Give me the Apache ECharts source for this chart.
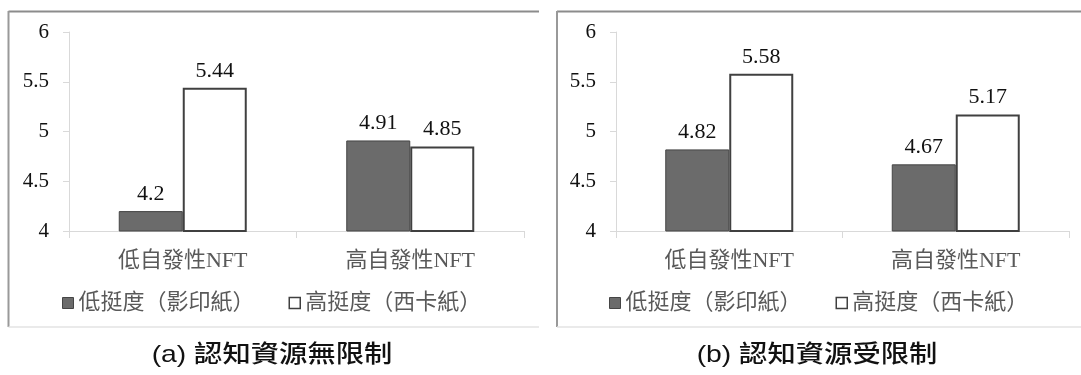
<!DOCTYPE html>
<html>
<head>
<meta charset="utf-8">
<style>
  html, body { margin: 0; padding: 0; background: #ffffff; }
  #chart { width: 1081px; height: 375px; }
</style>
<script src="https://cdn.jsdelivr.net/npm/echarts@6/dist/echarts.min.js"></script>
</head>
<body>
<div id="chart"></div>
<script>
// ---- data ----
const categories = ['低自發性NFT', '高自發性NFT'];
const seriesNames = ['低挺度（影印紙）', '高挺度（西卡紙）'];
const panelALow = [4.2, 4.91];
const panelAHigh = [5.44, 4.85];
const panelBLow = [4.82, 4.67];
const panelBHigh = [5.58, 5.17];
const yMin = 4, yMax = 6, yInterval = 0.5;
const captions = ['(a) 認知資源無限制', '(b) 認知資源受限制'];

// ---- styles ----
const serif = '"Liberation Serif", "Noto Sans CJK TC", serif';
const axisGray = '#d9d9d9';
const labelGray = '#595959';
const darkFill = '#6b6b6b';
const darkBorder = '#454545';
const whiteBorder = '#404040';

const chart = echarts.init(document.getElementById('chart'), null, { renderer: 'canvas' });

function xAxis(gridIndex) {
  return {
    type: 'category', gridIndex, data: categories,
    axisLine: { lineStyle: { color: axisGray, width: 1 } },
    axisTick: { show: true, length: 7, lineStyle: { color: axisGray } },
    axisLabel: { margin: 19, fontSize: 22, color: labelGray, fontFamily: serif }
  };
}
function yAxis(gridIndex) {
  return {
    type: 'value', gridIndex, min: yMin, max: yMax, interval: yInterval,
    axisLine: { show: true, lineStyle: { color: axisGray, width: 1 } },
    axisTick: { show: true, length: 6, lineStyle: { color: axisGray } },
    splitLine: { show: false },
    axisLabel: { margin: 20, fontSize: 21, color: '#111', fontFamily: serif }
  };
}
const valueLabel = { show: true, position: 'top', distance: 6, fontSize: 22, color: '#111', fontFamily: serif };
function barSeries(name, data, idx, dark) {
  return {
    type: 'bar', name, data, xAxisIndex: idx, yAxisIndex: idx,
    barWidth: 64, barGap: '0%',
    itemStyle: dark
      ? { color: darkFill, borderColor: darkBorder, borderWidth: 1 }
      : { color: '#ffffff', borderColor: whiteBorder, borderWidth: 2 },
    label: valueLabel,
    emphasis: { disabled: true }
  };
}
function legend(left) {
  return {
    left, top: 292, padding: 0, itemWidth: 11, itemHeight: 11, itemGap: 34,
    icon: 'rect',
    textStyle: { fontSize: 22, color: labelGray, fontFamily: serif },
    data: [
      { name: seriesNames[0], itemStyle: { color: darkFill, borderColor: darkBorder, borderWidth: 1 } },
      { name: seriesNames[1], itemStyle: { color: '#ffffff', borderColor: whiteBorder, borderWidth: 1.5 } }
    ],
    selectedMode: false
  };
}
function panelLines(x0, x1) {
  return [
    { type: 'line', shape: { x1: x0, y1: 11.5, x2: x1, y2: 11.5 }, style: { stroke: '#8c8c8c', lineWidth: 2 } },
    { type: 'line', shape: { x1: x0, y1: 11, x2: x0, y2: 327 }, style: { stroke: '#999999', lineWidth: 2 } },
    { type: 'line', shape: { x1: x0, y1: 327, x2: x1, y2: 327 }, style: { stroke: '#e3e3e3', lineWidth: 1.5 } }
  ];
}
function caption(text, cx) {
  return {
    type: 'text', x: cx, y: 355, scaleX: 1.18,
    style: {
      text, fontSize: 24, fontWeight: 500, fill: '#111',
      fontFamily: '"Liberation Sans", "Noto Sans CJK TC", sans-serif',
      align: 'center', verticalAlign: 'middle'
    }
  };
}

chart.setOption({
  animation: false,
  backgroundColor: '#ffffff',
  grid: [
    { left: 69, top: 32, width: 455, height: 199 },
    { left: 616, top: 32, width: 453, height: 199 }
  ],
  xAxis: [xAxis(0), xAxis(1)],
  yAxis: [yAxis(0), yAxis(1)],
  legend: [legend(62), legend(609)],
  series: [
    barSeries(seriesNames[0], panelALow, 0, true),
    barSeries(seriesNames[1], panelAHigh, 0, false),
    barSeries(seriesNames[0], panelBLow, 1, true),
    barSeries(seriesNames[1], panelBHigh, 1, false)
  ],
  graphic: [
    ...panelLines(8.5, 539),
    ...panelLines(557, 1081),
    caption(captions[0], 272),
    caption(captions[1], 817)
  ]
});
</script>
</body>
</html>
